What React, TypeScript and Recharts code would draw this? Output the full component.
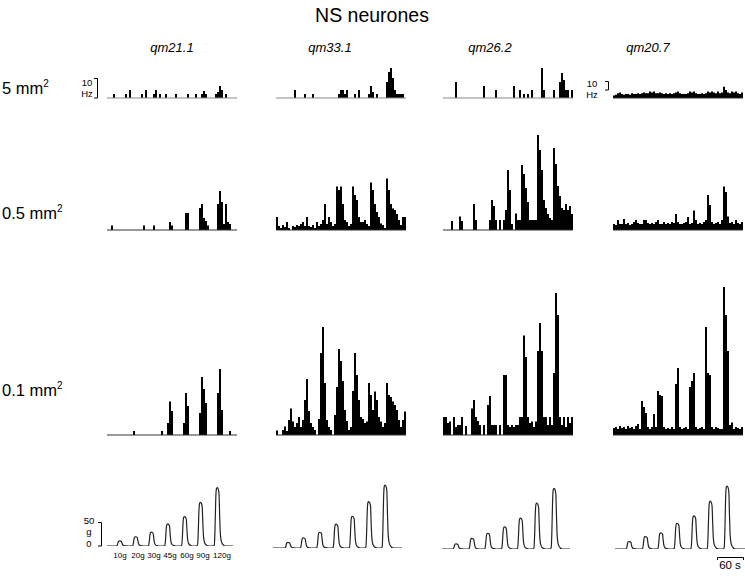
import { BarChart, Bar, XAxis, YAxis, ReferenceLine, LineChart, Line } from "recharts";

const FONT = "Liberation Sans, Arial, Helvetica, sans-serif";

const neurones = ["qm21.1", "qm33.1", "qm26.2", "qm20.7"];
const areas = ["5", "0.5", "0.1"];
const forceSteps = ["10g", "20g", "30g", "45g", "60g", "90g", "120g"];

// firing rate (Hz), 65 bins of ~4.3 s per trace
// 5 mm2 probe
const qm21_5 = [0,0,0,2,0,0,0,0,0,2, 0,4,0,0,0,0,0,2,0,4, 0,0,0,2,4,0,2,0,0,2, 0,0,0,0,2,0,0,0,0,0, 2,0,0,0,2,0,0,2,3.5,2, 0,0,0,0,2,3,6,4,0,2, 0,0,0,0,0];
const qm33_5 = [0,0,0,0,0,0,0,0,0,4, 0,0,0,0,2,0,0,0,2,0, 0,0,0,0,0,0,0,0,0,0, 0,2,4,4,2,4,0,0,0,2, 0,4,0,0,0,0,2,6,3,0, 2,0,0,0,0,8,13,15,10,4, 2,2,2,2,0];
const qm26_5 = [0,0,0,0,0,0,8,0,0,0, 0,0,0,0,0,0,0,0,0,0, 6,0,0,0,0,0,4,0,0,0, 0,0,0,0,0,6,0,0,4,0, 2,0,2,0,4,0,0,0,0,15, 4,0,0,0,0,4,0,0,8,12.5, 9,4,4,0,4];
const qm20_5 = [3,4,6,7,5,4,5,5,4,6, 5,5,6,5,6,7,6,6,8,7, 8,6,6,7,6,5,6,5,6,5, 6,7,8,6,5,5,5,6,8,7, 8,6,5,5,6,5,6,8,7,8, 7,6,8,6,7,14,10,7,6,8, 7,8,6,5,7];

// 0.5 mm2 probe
const qm21_05 = [0,0,2.3,0,0,0,0,0,0,0, 0,0,0,0,0,0,0,0,2.3,0, 0,0,0,2.3,0,0,0,0,0,0, 0,4,2.3,0,0,0,0,0,0,8.5, 8.5,0,0,0,0,0,11,13,6,4.5, 2.3,0,0,0,0,13,19.5,14,3,13, 4,3,0,0,0];
const qm33_05 = [6.5,2,1,2.5,1.5,4,1,0,2,1.5, 2.5,2,3,4,2,6.5,2,1.5,2.5,1, 4,2,3,5,13,3,6.5,4,2,3, 21.7,20,21.7,13,5,4,2,3,21.7,17.5, 15,6.5,4,4,5,3,2,23.7,20,13, 9,6.5,3.3,2.5,1,25.8,20,13,10.8,10, 8,5,2.5,6.5,6.5];
const qm26_05 = [0,0,0,0,4.5,0,0,0,6.7,4.5, 0,0,0,0,0,13,5,0,0,0, 0,0,0,5,15,12,5,0,5,0, 5,10,30,20,3,0,8.3,5,5,32.5, 28,21,14,5,5,5,5,47.5,40,30, 15,11,8,6,5,41,33,22,17,11, 10,13,10,12,8];
const qm20_05 = [3,2.5,5,3,3,5.5,3,3.5,2.5,3, 4,5,3.5,3,3,5,5,3.5,3,3.5, 3,4,5,3,3,4,3,3.5,3,4, 3.5,8,4,3,3,3.5,4,6.5,3,3.5, 9.7,5,3,3.5,3,4,5,17.5,12.5,4, 3,3.5,4,3,5,21.7,19,6.7,3.5,4, 3,5,3.5,3,4];

// 0.1 mm2 probe
const qm21_01 = [0,0,0,0,0,0,0,0,0,0, 0,0,0,2,0,0,0,0,0,0, 0,0,0,0,0,0,0,2,0,0, 6,16.7,12,0,0,0,0,0,6,21, 14.5,0,0,0,0,0,11,29,23,16, 0,0,0,0,0,21,33,12.5,0,0, 0,2,0,0,0];
const qm33_01 = [2.2,0,0,2.5,4.2,2,7.5,13.3,6.7,4, 6,9,4,7.5,17.5,28,12,6,4,2.5, 0,8,41,54,26,7.5,4,2.5,0,10, 24,43,37,27,12.5,7,2.5,4,22,41, 30,17.5,9,8,6,6.7,26,20,12.5,21.7, 17.5,9,6.7,4,6,26,20,19,16.7,15, 12.5,7.5,4,7.5,11.7];
const qm26_01 = [9,9,6,6.7,0,9,4,5,5,9, 0,4.5,0,0,13.3,17.5,9,7,5,0, 5,0,15,19.5,5,5,5,0,5,0, 30,30,5,4,5,4,5,5,9,9, 49.7,39,9,6,6.7,4,6.7,42,56,42, 9,9,5,9,5,31,71,60,9,5, 9,4,9,6,9];
const qm20_01 = [3.5,4,3,4.5,3.5,4,3,4.5,3.5,4, 3,4.5,5.5,3,17,14,11,4,3,4, 10.5,4,22,20,19.5,4,3,3.5,3,4, 3,25.5,33.5,4,3,3.5,4,3,24,27, 31,4,3,3.5,4,3,54,31,30,4, 3,4,3.5,3,3,74,60,42,5,6.3, 3,4,3.5,3,4];

// applied force (g) and pulse onsets (s)
const forceQm21 = [11, 20, 30, 48, 64, 95, 127];
const forceQm33 = [12, 22, 34, 52, 69, 101, 137];
const forceQm26 = [11, 23, 34, 48, 67, 100, 132];
const forceQm20 = [16, 27, 35, 56, 72, 104, 137];
const onsetQm21 = [21, 55, 89, 124, 160, 194, 230];
const onsetQm33 = [26, 59, 94, 129, 164, 199, 234];
const onsetQm26 = [24, 58, 92, 128, 162, 197, 234];
const onsetQm20 = [24, 59, 92, 127, 163, 198, 234];
// one force pulse: [s after onset, fraction of peak]
const pulseShape = [
    [-3, 0], [0, 0.02], [1.5, 0.3], [3, 0.8], [4.5, 0.98], [6, 1], [8.5, 0.97],
    [10, 0.9], [11.3, 0.55], [12.8, 0.22], [15, 0.08], [19, 0.02], [24, 0],
];

const histRows = [
    [qm21_5, qm33_5, qm26_5, qm20_5],
    [qm21_05, qm33_05, qm26_05, qm20_05],
    [qm21_01, qm33_01, qm26_01, qm20_01],
];
const forces = [forceQm21, forceQm33, forceQm26, forceQm20];
const onsets = [onsetQm21, onsetQm33, onsetQm26, onsetQm20];

// layout
const colX = [107, 276, 443, 613];
const rowBase = [98, 230, 435];
const rowMax = [20, 50, 80];
const PX_PER_HZ = 2;
const forceX = [107, 273, 442, 615];
const forceW = [126, 129, 128, 130];
const forceBase = [546, 548, 549, 549];
const FORCE_MAX = 150;
const FORCE_H = 69;
const S_PER_PX = 60 / 28;

function Histogram({ values, left, base, maxHz, pxPerHz, axisColor }: any) {
    const plotH = Math.round(maxHz * pxPerHz);
    const data = values.map((v: number, i: number) => ({ bin: i, rate: v }));
    return (
        <div style={{ position: "absolute", left, top: base - plotH, width: 130, height: plotH + 1 }}>
            <BarChart
                width={130}
                height={plotH + 1}
                data={data}
                margin={{ top: 0, right: 0, bottom: 1, left: 0 }}
                barCategoryGap={0}
                barGap={0}
            >
                <XAxis dataKey="bin" hide />
                <YAxis hide domain={[0, maxHz]} allowDataOverflow />
                <Bar dataKey="rate" fill="#000" isAnimationActive={false} />
                <ReferenceLine y={0} stroke={axisColor} strokeWidth={1} />
            </BarChart>
        </div>
    );
}

function ForceTrace({ amps, starts, left, width, base }: any) {
    const tMax = width * S_PER_PX;
    const pts: { t: number; g: number }[] = [{ t: 0, g: 0 }];
    amps.forEach((a: number, i: number) => {
        pulseShape.forEach(([dt, f]) => pts.push({ t: starts[i] + dt, g: a * f }));
    });
    pts.push({ t: tMax, g: 0 });
    return (
        <div style={{ position: "absolute", left, top: base - FORCE_H - 1, width, height: FORCE_H + 2 }}>
            <LineChart width={width} height={FORCE_H + 2} data={pts} margin={{ top: 1, right: 0, bottom: 1, left: 0 }}>
                <XAxis type="number" dataKey="t" domain={[0, tMax]} hide allowDataOverflow />
                <YAxis hide domain={[0, FORCE_MAX]} allowDataOverflow />
                <Line
                    type="monotone"
                    dataKey="g"
                    stroke="#222"
                    strokeWidth={1.2}
                    dot={false}
                    isAnimationActive={false}
                />
            </LineChart>
        </div>
    );
}

const labelX = [172, 330, 490, 648];
const areaY = [94, 219, 396];
const stepX = [120, 138, 154, 170, 187, 203, 222];

export default function App() {
    return (
        <div style={{ position: "absolute", left: 0, top: 0, width: 745, height: 576, background: "#fff", fontFamily: FONT }}>
            {histRows.map((row, r) =>
                row.map((vals, c) => {
                    const tonic = r === 0 && c === 3;
                    return (
                        <Histogram
                            key={r + "-" + c}
                            values={vals}
                            left={colX[c]}
                            base={rowBase[r]}
                            maxHz={tonic ? 50 : rowMax[r]}
                            pxPerHz={tonic ? 0.8 : PX_PER_HZ}
                            axisColor={r === 0 && !tonic ? "#888" : "#333"}
                        />
                    );
                })
            )}
            {forces.map((f, c) => (
                <ForceTrace key={c} amps={f} starts={onsets[c]} left={forceX[c]} width={forceW[c]} base={forceBase[c]} />
            ))}

            <svg width={745} height={576} style={{ position: "absolute", left: 0, top: 0, pointerEvents: "none" }} fontFamily={FONT}>
                <text x={372} y={22} fontSize={19.5} textAnchor="middle">NS neurones</text>
                {neurones.map((n, i) => (
                    <text key={n} x={labelX[i]} y={52} fontSize={13} fontStyle="italic" textAnchor="middle">{n}</text>
                ))}
                {areas.map((a, i) => (
                    <text key={a} x={2} y={areaY[i]} fontSize={16.5}>
                        {a} mm<tspan fontSize={10} dy={-7}>2</tspan>
                    </text>
                ))}

                {/* 10 Hz scale, first three neurones */}
                <text x={87} y={86} fontSize={9.5} textAnchor="middle">10</text>
                <text x={87} y={97} fontSize={9.5} textAnchor="middle">Hz</text>
                <path d="M94 78.5 H97.5 V98 H94" fill="none" stroke="#000" strokeWidth={1} />

                {/* 10 Hz scale, qm20.7 */}
                <text x={592} y={87} fontSize={9.5} textAnchor="middle">10</text>
                <text x={592} y={97.5} fontSize={9.5} textAnchor="middle">Hz</text>
                <path d="M605 81.5 H608.5 V90 H605" fill="none" stroke="#000" strokeWidth={1} />

                {/* 50 g force scale */}
                <text x={89} y={524} fontSize={9.5} textAnchor="middle">50</text>
                <text x={89} y={535} fontSize={9.5} textAnchor="middle">g</text>
                <text x={89} y={547} fontSize={9.5} textAnchor="middle">0</text>
                <path d="M98 522.5 H101.5 V546 H98" fill="none" stroke="#000" strokeWidth={1} />
                {forceSteps.map((s, i) => (
                    <text key={s} x={stepX[i]} y={558} fontSize={8} textAnchor="middle">{s}</text>
                ))}

                {/* 60 s time scale */}
                <path d="M717.5 560 V557.5 H743.5 V560" fill="none" stroke="#000" strokeWidth={1} />
                <text x={730} y={569} fontSize={11.5} textAnchor="middle">60 s</text>
            </svg>
        </div>
    );
}
